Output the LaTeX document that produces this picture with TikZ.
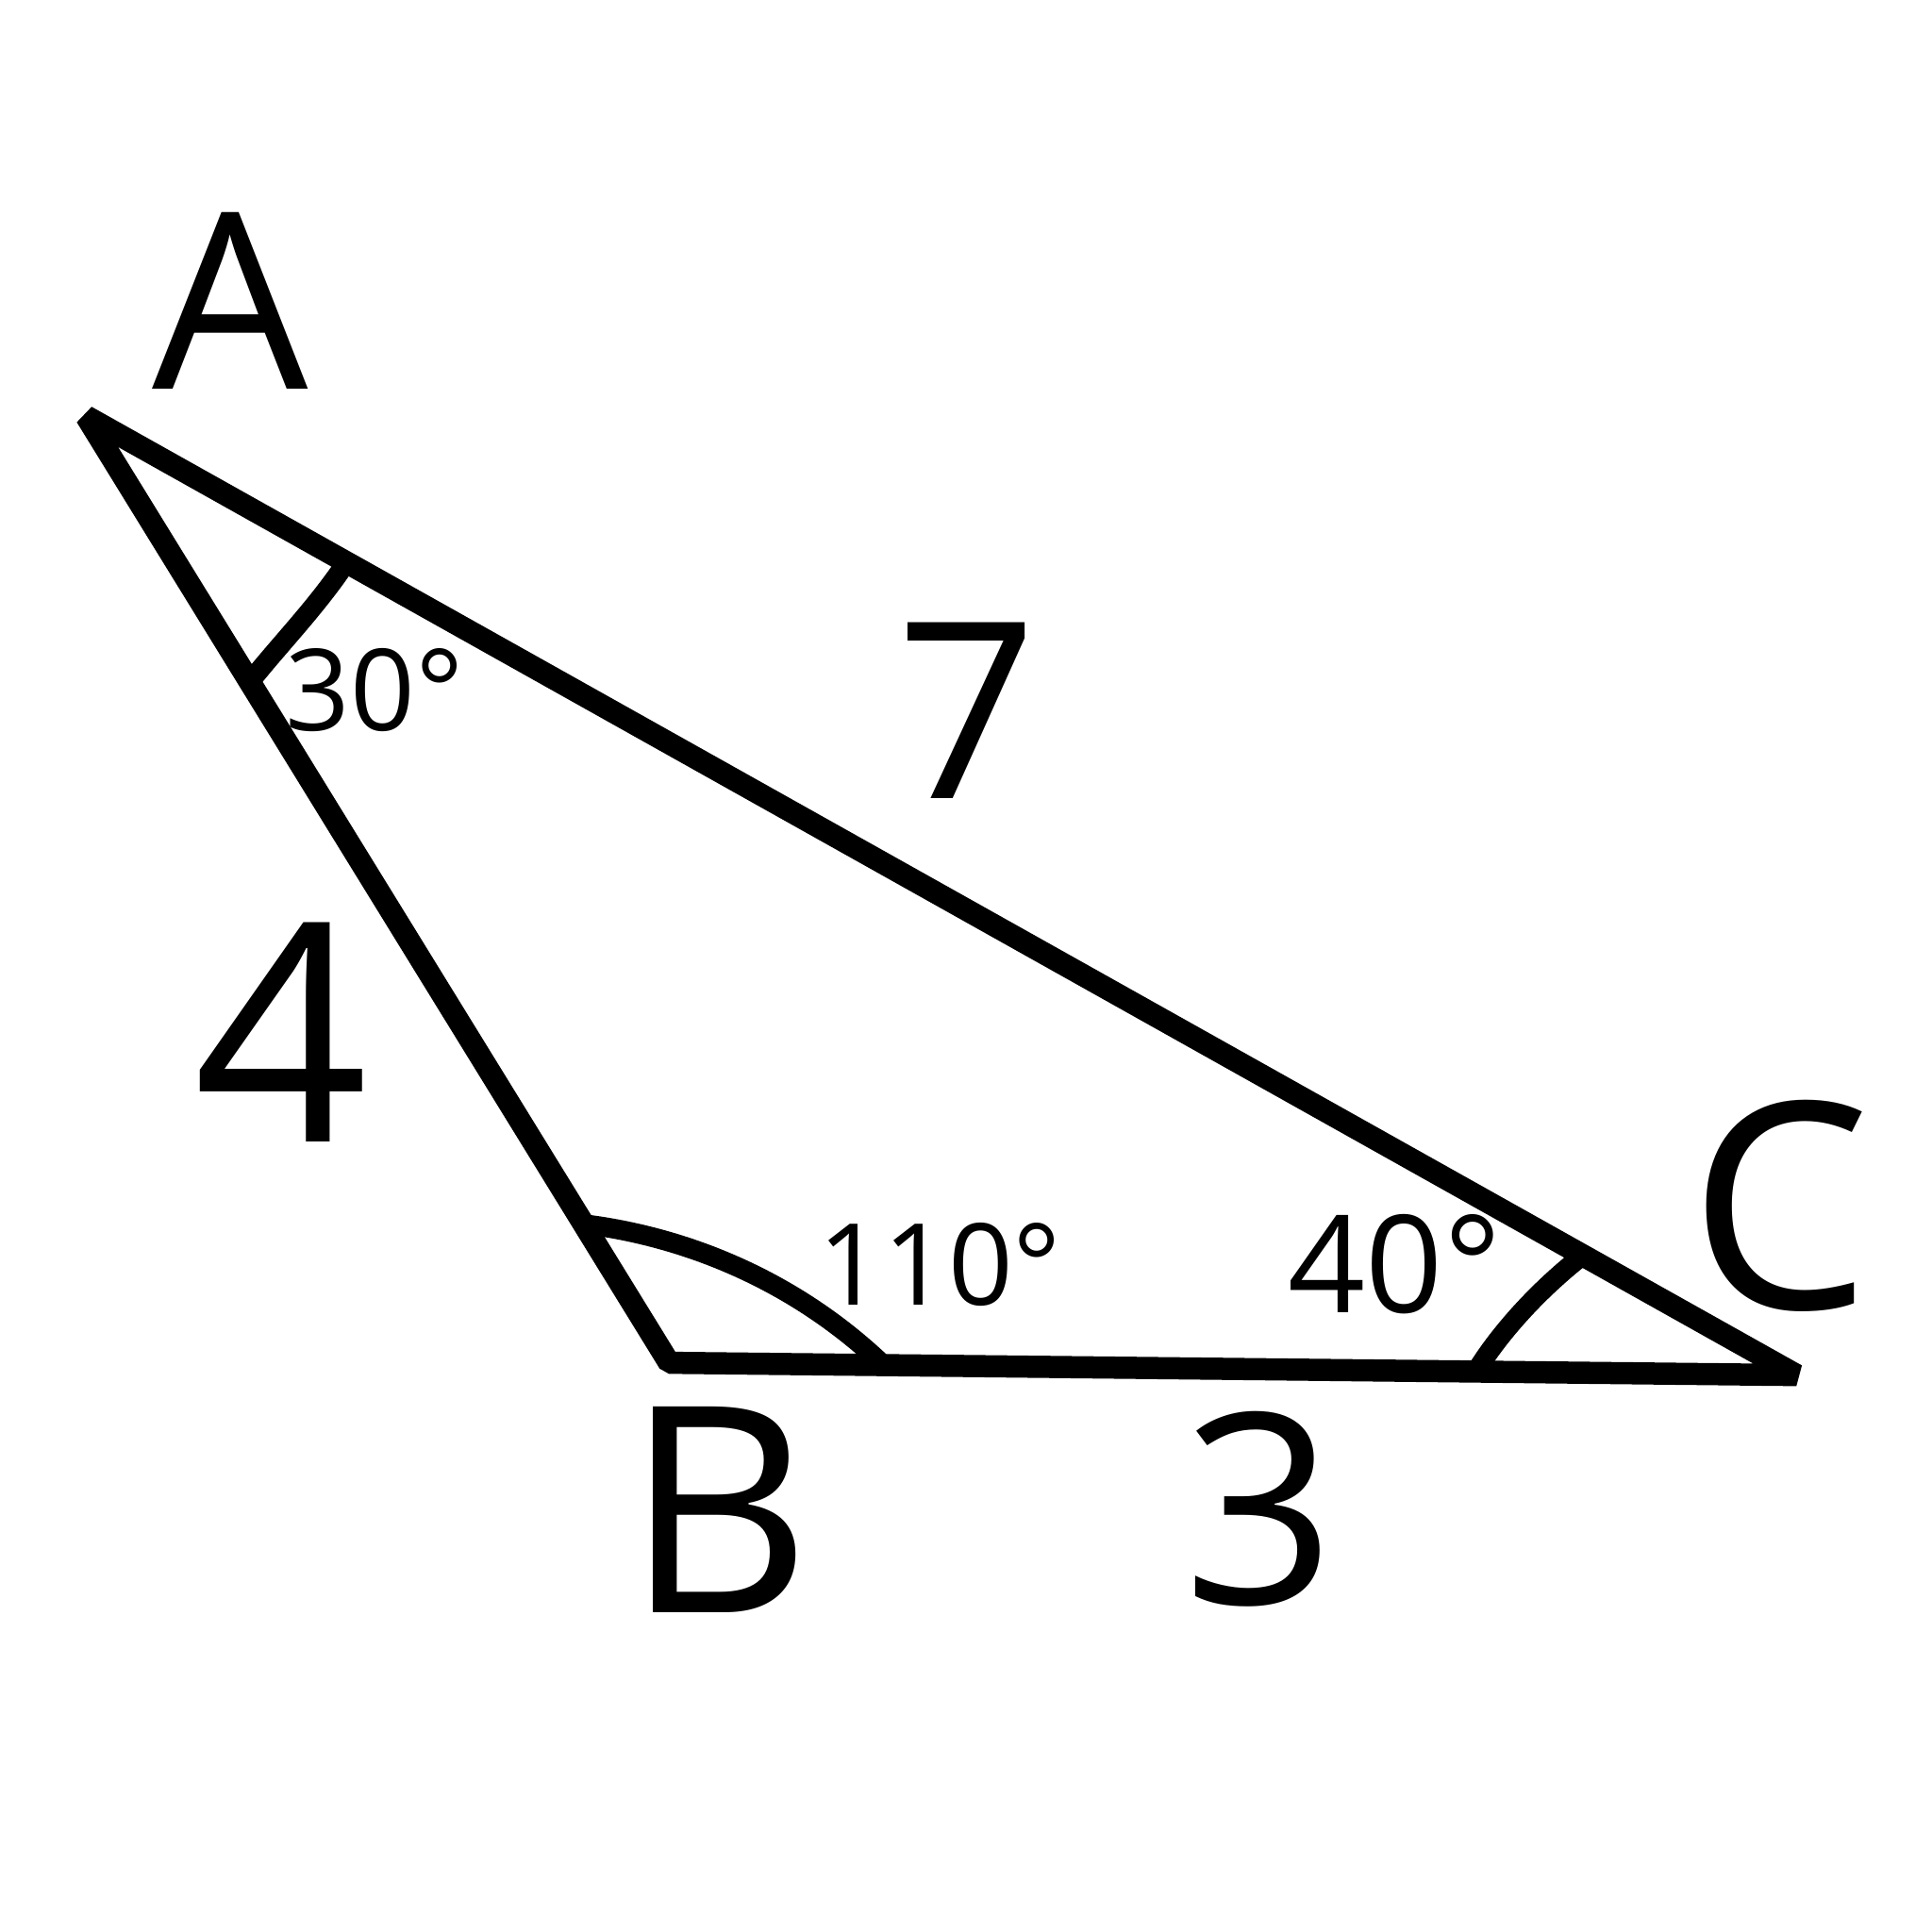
\documentclass[tikz,border=0pt]{standalone}
\usepackage{fontspec}
\setmainfont{Open Sans}
\begin{document}
\begin{tikzpicture}[x=0.5pt,y=-0.5pt,
  side/.style={line width=9pt,line join=bevel,line cap=butt},
  arcline/.style={line width=8pt,line cap=butt},
  lab/.style={inner sep=0pt,anchor=center}]
\useasboundingbox (0,0) rectangle (1568,1568);
\coordinate (A) at (70,338);
\coordinate (B) at (543,1106);
\coordinate (C) at (1458,1116);
\draw[side] (A) -- (B) -- (C) -- cycle;
% angle arcs
\coordinate (a1) at (280,458);
\coordinate (a2) at (200,557);
\draw[arcline] (a1) .. controls (255,495) and (225,525) .. (a2);
\coordinate (b1) at (478,994);
\coordinate (b2) at (715,1106);
\draw[arcline] (b1) .. controls (560,1005) and (645,1040) .. (b2);
\coordinate (c1) at (1283,1020);
\coordinate (c2) at (1198,1113);
\draw[arcline] (c1) .. controls (1245,1050) and (1215,1085) .. (c2);
% vertex labels
\node[lab,font=\fontsize{100}{100}\selectfont] (lA) at (187,244) {A};
\node[lab,font=\fontsize{117}{117}\selectfont] (lB) at (583,1225) {B};
\node[lab,font=\fontsize{117}{117}\selectfont] (lC) at (1445,979) {C};
% side labels
\node[lab,font=\fontsize{100}{100}\selectfont] (l7) at (785,577) {7};
\node[lab,font=\fontsize{124}{124}\selectfont] (l4) at (228,838) {4};
\node[lab,font=\fontsize{108}{108}\selectfont] (l3) at (1022,1225) {3};
% angle labels
\node[lab,font=\fontsize{46}{46}\selectfont] (t30) at (304,560) {30°};
\node[lab,font=\fontsize{46}{46}\selectfont] (t110) at (763,1026) {110°};
\node[lab,font=\fontsize{55}{55}\selectfont] (t40) at (1132,1026) {40°};
\end{tikzpicture}
\end{document}
